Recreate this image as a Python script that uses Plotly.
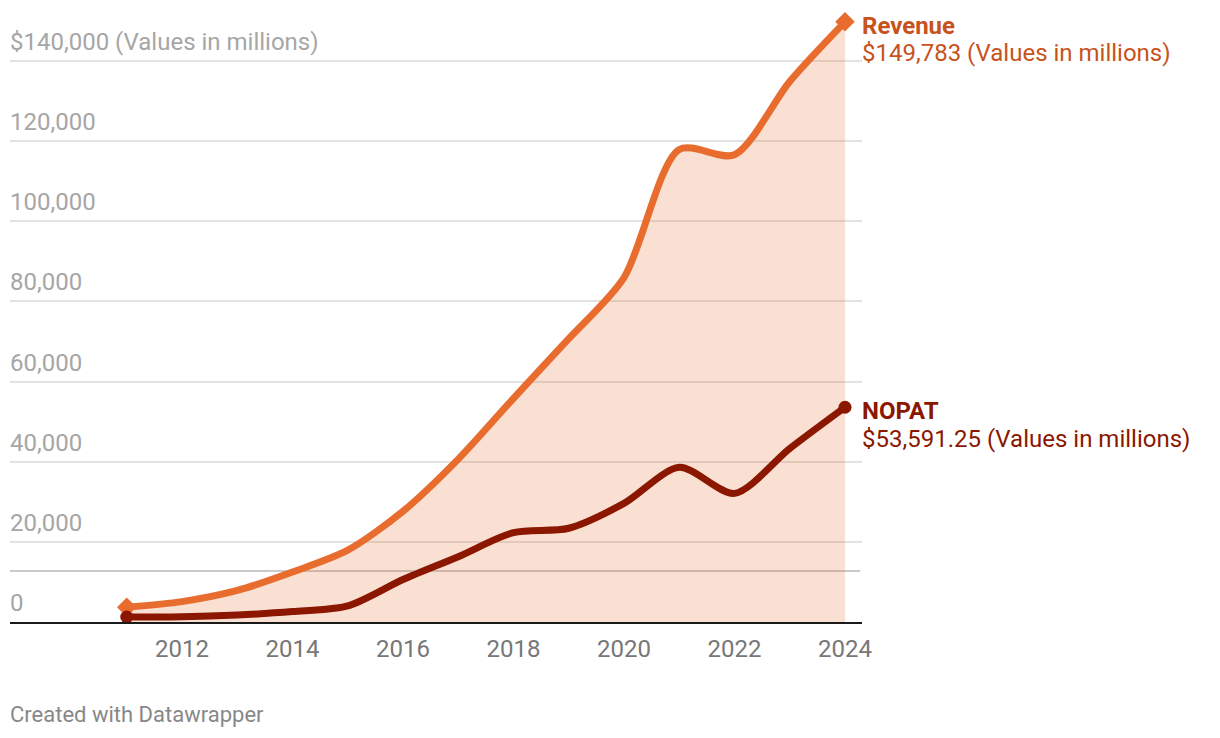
import plotly.graph_objects as go

years = list(range(2011, 2025))
revenue = [3711, 5089, 7872, 12466, 17928, 27638, 40653, 55838, 70697, 85965, 117929, 116609, 134902, 149783]
nopat = [1250, 1300, 1750, 2600, 4000, 10600, 16300, 22300, 23400, 29600, 38600, 32100, 43300, 53591.25]

y_ticks = [0, 20000, 40000, 60000, 80000, 100000, 120000, 140000]
y_ticktext = ["0", "20,000", "40,000", "60,000", "80,000", "100,000", "120,000", "$140,000 (Values in millions)"]
x_ticks = [2012, 2014, 2016, 2018, 2020, 2022, 2024]
ref_line = 12730

REV_COLOR = "#e96c2f"
REV_LABEL = "#c8521c"
NOP_COLOR = "#8b1700"
FONT = "Roboto"
FS = 24

fig = go.Figure()

# area under revenue
fig.add_trace(go.Scatter(
    x=years, y=revenue, mode="lines", line=dict(width=0, shape="spline", smoothing=0.8),
    fill="tozeroy", fillcolor="rgba(233,108,46,0.21)", hoverinfo="skip", showlegend=False))

fig.add_trace(go.Scatter(
    x=years, y=revenue, mode="lines", line=dict(color=REV_COLOR, width=7, shape="spline", smoothing=0.8),
    showlegend=False))
fig.add_trace(go.Scatter(
    x=[years[0], years[-1]], y=[revenue[0], revenue[-1]], mode="markers", cliponaxis=False,
    marker=dict(symbol="diamond", size=15, color=REV_COLOR), showlegend=False))

fig.add_trace(go.Scatter(
    x=years, y=nopat, mode="lines", line=dict(color=NOP_COLOR, width=7, shape="spline", smoothing=0.8),
    showlegend=False))
fig.add_trace(go.Scatter(
    x=[years[0], years[-1]], y=[nopat[0], nopat[-1]], mode="markers", cliponaxis=False,
    marker=dict(symbol="circle", size=13, color=NOP_COLOR), showlegend=False))

x0 = 2011 - 116.75 / 55.25
x1 = 2024 + 17 / 55.25
ymax = (622 - 10) / 4.007 * 1000

fig.add_shape(type="line", xref="paper", x0=0, x1=0.998, yref="y", y0=ref_line, y1=ref_line,
              line=dict(color="#b8b8b8", width=1.5), layer="below")

annotations = []
for v, t in zip(y_ticks, y_ticktext):
    annotations.append(dict(x=0, y=v, xref="paper", yref="y", text=t, showarrow=False,
                            xanchor="left", yanchor="middle", xshift=-2, yshift=19,
                            font=dict(size=FS, color="#a6a6a6", family=FONT)))

annotations += [
    dict(x=2024, y=revenue[-1], xref="x", yref="y", text="<b>Revenue</b>", showarrow=False,
         xanchor="left", yanchor="middle", xshift=15, yshift=-4,
         font=dict(size=FS, color=REV_LABEL, family=FONT)),
    dict(x=2024, y=revenue[-1], xref="x", yref="y", text="$149,783 (Values in millions)", showarrow=False,
         xanchor="left", yanchor="middle", xshift=15, yshift=-31,
         font=dict(size=FS, color=REV_LABEL, family=FONT)),
    dict(x=2024, y=nopat[-1], xref="x", yref="y", text="<b>NOPAT</b>", showarrow=False,
         xanchor="left", yanchor="middle", xshift=15, yshift=-4,
         font=dict(size=FS, color=NOP_COLOR, family=FONT)),
    dict(x=2024, y=nopat[-1], xref="x", yref="y", text="$53,591.25 (Values in millions)", showarrow=False,
         xanchor="left", yanchor="middle", xshift=15, yshift=-32,
         font=dict(size=FS, color=NOP_COLOR, family=FONT)),
    dict(x=0, y=0, xref="paper", yref="paper", text="Created with Datawrapper", showarrow=False,
         xanchor="left", yanchor="middle", xshift=-2, yshift=-92,
         font=dict(size=22, color="#888888", family=FONT)),
]

fig.update_layout(
    width=1204, height=722,
    margin=dict(l=2, r=350, t=2, b=108),
    paper_bgcolor="white", plot_bgcolor="white",
    font=dict(family=FONT),
    xaxis=dict(range=[x0, x1], tickvals=x_ticks, ticktext=[str(v) for v in x_ticks],
               showgrid=False, zeroline=False, showline=True, linecolor="#1a1a1a", linewidth=2,
               ticks="", tickfont=dict(size=FS, color="#777777", family=FONT), ticklabelstandoff=4),
    yaxis=dict(range=[0, ymax], tickvals=y_ticks, showticklabels=False,
               showgrid=True, gridcolor="#e2e2e2", gridwidth=1.5, zeroline=False, showline=False,
               ticks=""),
    annotations=annotations,
)

fig.write_html("out.html")
